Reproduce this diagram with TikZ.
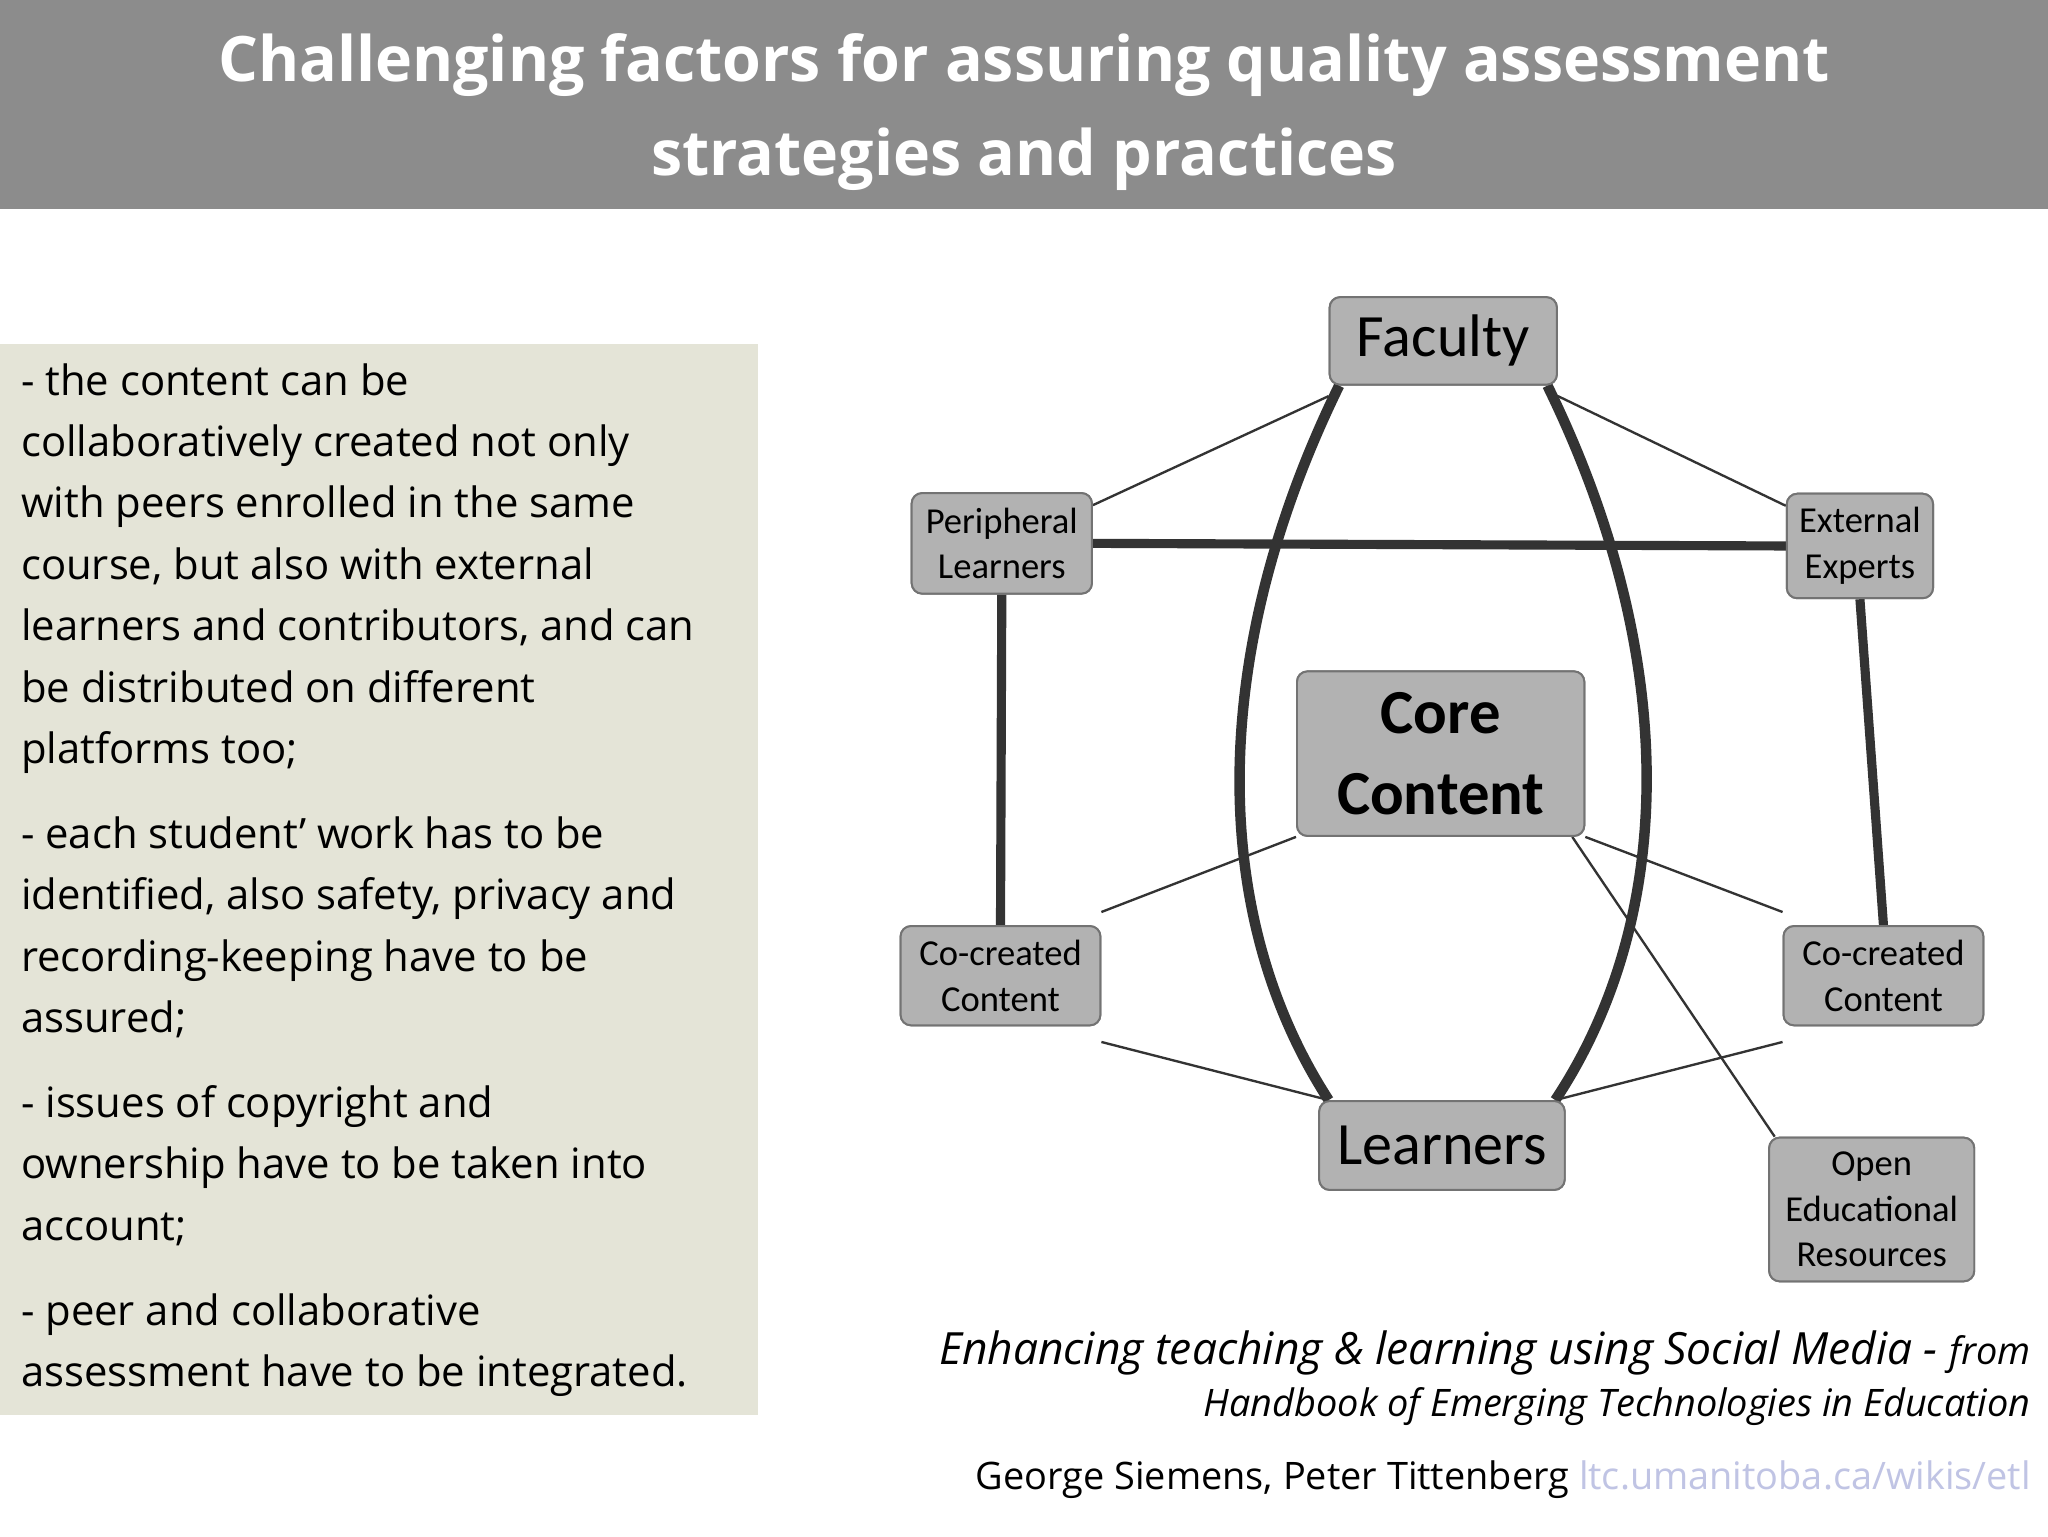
\documentclass[tikz,border=0pt]{standalone}
\usepackage{fontspec}
\setmainfont{Open Sans}
\newfontfamily\capfont{Carlito}
\definecolor{panel}{HTML}{E4E4D7}
\definecolor{link}{HTML}{C0C4E4}
\begin{document}
\begin{tikzpicture}[x=1pt,y=-1pt,
  box/.style={draw=black!55,line width=1.5pt,fill=black!30,rounded corners=8pt,inner sep=0pt,align=center,font=\capfont},
  small/.style={font=\capfont\fontsize{28}{35}\selectfont},
  thin/.style={line width=1.8pt,black!80},
  thick/.style={line width=7pt,black!80}]
\useasboundingbox (0,0) rectangle (1568,1176);
\fill[white] (0,0) rectangle (1568,1176);
\fill[black!45] (0,0) rectangle (1568,160);
\node[text=white,font=\bfseries\fontsize{48}{72}\selectfont,align=center] (title) at (784,86) {Challenging factors for assuring quality assessment\\strategies and practices};
\fill[panel] (0,263) rectangle (580,1083);
\node[anchor=north west,font=\fontsize{32}{47}\selectfont,inner sep=0pt,align=left] (txt) at (16,278) {%
- the content can be\\
collaboratively created not only\\
with peers enrolled in the same\\
course, but also with external\\
learners and contributors, and can\\
be distributed on different\\
platforms too;\\[18pt]
- each student' work has to be\\
identified, also safety, privacy and\\
recording-keeping have to be\\
assured;\\[18pt]
- issues of copyright and\\
ownership have to be taken into\\
account;\\[18pt]
- peer and collaborative\\
assessment have to be integrated.};
% nodes
\node[box,minimum width=174pt,minimum height=67pt,font=\capfont\fontsize{46}{46}\selectfont] (fac) at (1105,261) {Faculty};
\node[box,small,minimum width=138pt,minimum height=77pt] (per) at (767,416) {Peripheral\\Learners};
\node[box,small,minimum width=112pt,minimum height=80pt] (ext) at (1424,418) {External\\Experts};
\node[box,minimum width=220pt,minimum height=126pt,font=\capfont\bfseries\fontsize{48}{62}\selectfont] (core) at (1103,577) {Core\\Content};
\node[box,small,minimum width=153pt,minimum height=76pt] (col) at (766,747) {Co-created\\Content};
\node[box,small,minimum width=153pt,minimum height=76pt] (cor) at (1442,747) {Co-created\\Content};
\node[box,minimum width=188pt,minimum height=68pt,font=\capfont\fontsize{46}{46}\selectfont] (lea) at (1104,877) {Learners};
\node[box,small,minimum width=157pt,minimum height=110pt] (oer) at (1433,926) {Open\\Educational\\Resources};
% edges
\draw[thin] ([yshift=-8pt]fac.south west) -- ([yshift=-10pt]per.north east);
\draw[thin] ([yshift=-8pt]fac.south east) -- ([yshift=-10pt]ext.north west);
\draw[thin] (core.south west) -- ([yshift=10pt]col.north east);
\draw[thin] (core.south east) -- ([yshift=10pt]cor.north west);
\draw[thin] ([xshift=-10pt]core.south east) -- ([xshift=5pt]oer.north west);
\draw[thin] ([yshift=-12pt]col.south east) -- ([xshift=8pt]lea.north west);
\draw[thin] ([yshift=-12pt]cor.south west) -- ([xshift=-8pt]lea.north east);
\draw[thick] (per.east) -- (ext.west);
\draw[thick] (per.south) -- (col.north);
\draw[thick] (ext.south) -- (cor.north);
\draw[line width=8pt,black!80] ([xshift=8pt]fac.south west) .. controls (925,500) and (925,700) .. ([xshift=8pt]lea.north west);
\draw[line width=8pt,black!80] ([xshift=-8pt]fac.south east) .. controls (1285,500) and (1285,700) .. ([xshift=-8pt]lea.north east);
% redraw nodes over edges
\node[box,minimum width=174pt,minimum height=67pt,font=\capfont\fontsize{46}{46}\selectfont] at (fac) {Faculty};
\node[box,minimum width=188pt,minimum height=68pt,font=\capfont\fontsize{46}{46}\selectfont] at (lea) {Learners};
\node[box,small,minimum width=138pt,minimum height=77pt] at (per) {Peripheral\\Learners};
\node[box,small,minimum width=112pt,minimum height=80pt] at (ext) {External\\Experts};
\node[box,small,minimum width=153pt,minimum height=76pt] at (col) {Co-created\\Content};
\node[box,small,minimum width=153pt,minimum height=76pt] at (cor) {Co-created\\Content};
\node[box,minimum width=220pt,minimum height=126pt,font=\capfont\bfseries\fontsize{48}{62}\selectfont] at (core) {Core\\Content};
\node[box,small,minimum width=157pt,minimum height=110pt] at (oer) {Open\\Educational\\Resources};
% caption
\node[anchor=east,inner sep=0pt,font=\itshape\fontsize{34}{34}\selectfont] (c1) at (1555,1036) {Enhancing teaching \& learning using Social Media - {\fontsize{29}{29}\selectfont from}};
\node[anchor=east,inner sep=0pt,font=\itshape\fontsize{29}{29}\selectfont] (c2) at (1555,1077) {Handbook of Emerging Technologies in Education};
\node[anchor=east,inner sep=0pt,font=\fontsize{29}{29}\selectfont] (c3) at (1555,1133) {George Siemens, Peter Tittenberg \textcolor{link}{ltc.umanitoba.ca/wikis/etl}};
\end{tikzpicture}
\end{document}
